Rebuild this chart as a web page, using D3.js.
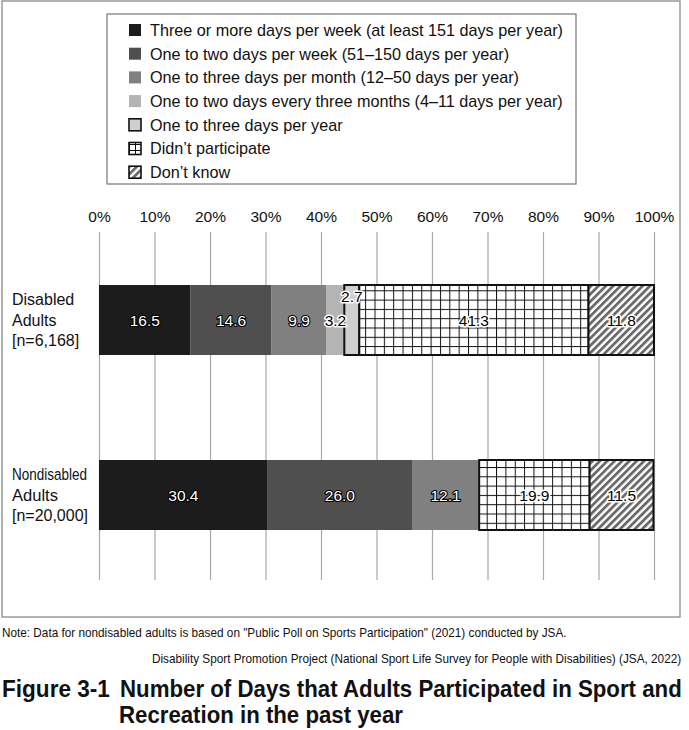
<!DOCTYPE html>
<html>
<head>
<meta charset="utf-8">
<script src="https://cdn.jsdelivr.net/npm/d3@7"></script>
<style>
  html, body { margin: 0; padding: 0; background: #fff; }
  svg { display: block; font-family: "Liberation Sans", Arial, Helvetica, sans-serif; }
</style>
</head>
<body>
<svg id="chart" width="689" height="730"></svg>
<script>
// ---- data ----
const categories = [
  "Three or more days per week (at least 151 days per year)",
  "One to two days per week (51\u2013150 days per year)",
  "One to three days per month (12\u201350 days per year)",
  "One to two days every three months (4\u201311 days per year)",
  "One to three days per year",
  "Didn\u2019t participate",
  "Don\u2019t know"
];
const groups = ["Disabled Adults [n=6,168]", "Nondisabled Adults [n=20,000]"];
const groupLabelLines = [
  ["Disabled", "Adults", "[n=6,168]"],
  ["Nondisabled", "Adults", "[n=20,000]"]
];
const disabledValues = [16.5, 14.6, 9.9, 3.2, 2.7, 41.3, 11.8];
const nondisabledValues = [30.4, 26.0, 12.1, null, null, 19.9, 11.5];
const tickValues = [0, 10, 20, 30, 40, 50, 60, 70, 80, 90, 100];
const noteText = "Note: Data for nondisabled adults is based on \"Public Poll on Sports Participation\" (2021) conducted by JSA.";
const sourceText = "Disability Sport Promotion Project (National Sport Life Survey for People with Disabilities) (JSA, 2022)";
const titleNum = "Figure 3-1";
const titleLines = ["Number of Days that Adults Participated in Sport and", "Recreation in the past year"];

// ---- styles ----
const fills = ["#1c1c1c", "#4f4f4f", "#808080", "#b4b4b4", "#cfcfcf", "url(#gridPat)", "url(#stripePat)"];
const bordered = [false, false, false, false, true, true, true];
const darkLabel = [true, true, true, false, false, false, false];

const svg = d3.select("#chart");
const defs = svg.append("defs");

const gp = defs.append("pattern").attr("id", "gridPat")
  .attr("patternUnits", "userSpaceOnUse").attr("width", 9.35).attr("height", 9.3)
  .attr("x", 0.5).attr("y", 2);
gp.append("rect").attr("width", 9.35).attr("height", 9.3).attr("fill", "#fff");
gp.append("line").attr("x1", 0.5).attr("x2", 0.5).attr("y1", 0).attr("y2", 9.3).attr("stroke", "#111").attr("stroke-width", 1);
gp.append("line").attr("y1", 0.5).attr("y2", 0.5).attr("x1", 0).attr("x2", 9.35).attr("stroke", "#111").attr("stroke-width", 1);

const sp = defs.append("pattern").attr("id", "stripePat")
  .attr("patternUnits", "userSpaceOnUse").attr("width", 5.2).attr("height", 5.2)
  .attr("patternTransform", "rotate(45)");
sp.append("rect").attr("width", 5.2).attr("height", 5.2).attr("fill", "#fff");
sp.append("rect").attr("width", 2.8).attr("height", 5.2).attr("fill", "#6a6a6a");

const gpl = defs.append("pattern").attr("id", "gridPatL")
  .attr("patternUnits", "userSpaceOnUse").attr("width", 6).attr("height", 6).attr("x", 129).attr("y", 0);
gpl.append("rect").attr("width", 6).attr("height", 6).attr("fill", "#fff");
gpl.append("line").attr("x1", 0.5).attr("x2", 0.5).attr("y1", 0).attr("y2", 6).attr("stroke", "#111");
gpl.append("line").attr("y1", 0.5).attr("y2", 0.5).attr("x1", 0).attr("x2", 6).attr("stroke", "#111");

// helper: draw text starting at (x0, yb) horizontally scaled to a target width
function fitText(parent, str, x0, yb, target, size, weight) {
  const t = parent.append("text").attr("x", 0).attr("y", 0)
    .attr("font-size", size).attr("fill", "#111").text(str);
  if (weight) t.attr("font-weight", weight);
  const w = t.node().getComputedTextLength();
  const s = w > 0 ? target / w : 1;
  t.attr("transform", `translate(${x0},${yb}) scale(${s},1)`);
  return t;
}

// frame
svg.append("rect").attr("x", 2).attr("y", 1).attr("width", 678).attr("height", 616)
  .attr("fill", "none").attr("stroke", "#8a8a8a").attr("stroke-width", 1.3);

// scales
const x = d3.scaleLinear().domain([0, 100]).range([99, 654]);
const y = d3.scaleBand().domain(groups).range([232.5, 582.5]).paddingInner(0.6).paddingOuter(0.3);

// top tick labels
const axTop = svg.append("g").attr("transform", "translate(0,222)")
  .call(d3.axisTop(x).tickValues(tickValues).tickSize(0).tickPadding(0).tickFormat(d => d + "%"));
axTop.select(".domain").remove();
axTop.selectAll("text").attr("font-size", 15.5).attr("fill", "#111")
  .attr("font-family", "'Liberation Sans', Arial, sans-serif");

// grid lines
const grid = svg.append("g").attr("transform", "translate(0,232)")
  .call(d3.axisBottom(x).tickValues(tickValues).tickSize(348).tickFormat(""));
grid.select(".domain").remove();
grid.selectAll("line").attr("stroke", "#a8a8a8").attr("stroke-width", 1.2);

// bars
const rows = [disabledValues, nondisabledValues];
const labelLens = [[null, null, null], [75, 46, 76]];
rows.forEach((vals, gi) => {
  let acc = 0;
  const segs = [];
  vals.forEach((v, i) => {
    if (v == null) return;
    segs.push({ i, v, x0: acc, x1: acc + v });
    acc += v;
  });
  const g = svg.append("g");
  const y0 = y(groups[gi]);
  const h = y.bandwidth();
  g.selectAll("rect.seg").data(segs).join("rect")
    .attr("class", "seg")
    .attr("x", d => x(d.x0)).attr("y", y0)
    .attr("width", d => x(d.x1) - x(d.x0)).attr("height", h)
    .attr("fill", d => fills[d.i])
    .attr("stroke", d => bordered[d.i] ? "#111" : "none")
    .attr("stroke-width", 2);
  g.selectAll("text.val").data(segs).join("text")
    .attr("class", "val")
    .attr("x", d => x((d.x0 + d.x1) / 2))
    .attr("y", d => (d.v < 3 ? y0 + 17 : y0 + h / 2 + 5.5))
    .attr("text-anchor", "middle")
    .attr("font-size", 15.5)
    .attr("fill", d => darkLabel[d.i] ? "#fff" : "#000")
    .attr("stroke", d => darkLabel[d.i] ? "#000" : "#fff")
    .attr("stroke-width", d => darkLabel[d.i] ? 2.2 : 3)
    .attr("stroke-linejoin", "round")
    .attr("paint-order", "stroke")
    .text(d => d.v.toFixed(1));
  groupLabelLines[gi].forEach((ln, li) => {
    const yb = y0 + 20 + li * 20.5;
    if (labelLens[gi][li]) {
      fitText(svg, ln, 12, yb, labelLens[gi][li], 16.5);
    } else {
      svg.append("text").attr("x", 12).attr("y", yb).attr("font-size", 16).attr("fill", "#111").text(ln);
    }
  });
});

// legend
const lg = svg.append("g");
lg.append("rect").attr("x", 107).attr("y", 14).attr("width", 469).attr("height", 170)
  .attr("fill", "#fff").attr("stroke", "#777").attr("stroke-width", 1.2);
const legendFills = ["#1c1c1c", "#4f4f4f", "#808080", "#b4b4b4", "#cfcfcf", "url(#gridPatL)", "url(#stripePat)"];
categories.forEach((c, i) => {
  const cy = 30 + i * 23.7;
  lg.append("rect").attr("x", 129).attr("y", cy - 6).attr("width", 12).attr("height", 12)
    .attr("fill", legendFills[i])
    .attr("stroke", bordered[i] ? "#111" : "none").attr("stroke-width", 1.6);
  lg.append("text").attr("x", 150).attr("y", cy + 5.8).attr("font-size", 16.2).attr("fill", "#111").text(c);
});

// notes
fitText(svg, noteText, 2, 637, 565, 12);
fitText(svg, sourceText, 152, 663, 530, 12);

// title
const tt = svg.append("g");
fitText(tt, titleNum, 2, 697, 108, 23, "bold");
fitText(tt, titleLines[0], 120, 697, 562, 23, "bold");
fitText(tt, titleLines[1], 119, 723, 284, 23, "bold");
</script>
</body>
</html>
